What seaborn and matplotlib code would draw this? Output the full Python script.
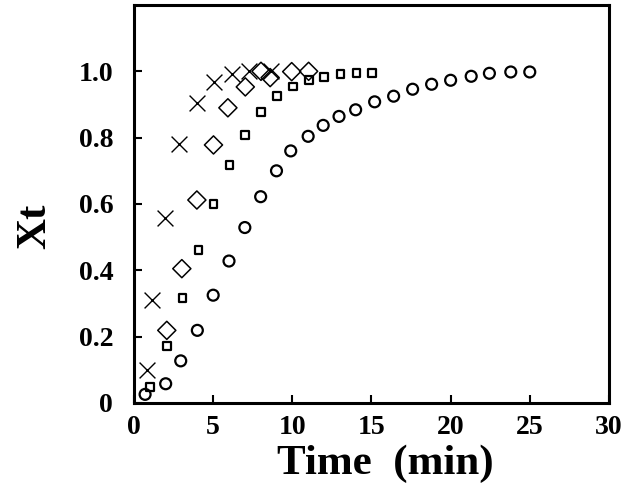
import seaborn as sns
import matplotlib.pyplot as plt

# circles
t_circle = [0.7, 2.0, 2.95, 4.0, 5.0, 6.0, 7.0, 8.0, 9.0, 9.9, 11.0, 11.95, 12.95, 14.0,
            15.2, 16.4, 17.6, 18.8, 20.0, 21.3, 22.45, 23.8, 25.0]
x_circle = [0.026, 0.058, 0.127, 0.219, 0.325, 0.428, 0.529, 0.622, 0.70, 0.76, 0.804,
            0.837, 0.864, 0.884, 0.908, 0.925, 0.946, 0.961, 0.973, 0.985, 0.994, 0.998, 0.998]

# squares
t_square = [1.0, 2.07, 3.06, 4.07, 5.02, 6.03, 7.03, 8.04, 9.03, 10.02, 11.08, 12.0, 13.04, 14.05, 15.02]
x_square = [0.048, 0.171, 0.316, 0.46, 0.599, 0.717, 0.808, 0.877, 0.926, 0.954, 0.973,
            0.984, 0.991, 0.994, 0.995]

# diamonds
t_diamond = [2.07, 3.02, 3.97, 5.02, 5.93, 7.03, 8.02, 8.6, 9.96, 11.03]
x_diamond = [0.219, 0.405, 0.612, 0.778, 0.89, 0.953, 1.0, 0.981, 0.999, 1.0]

# crosses
t_cross = [0.8, 1.12, 1.96, 2.85, 3.95, 5.03, 6.18, 7.25, 8.65]
x_cross = [0.098, 0.312, 0.559, 0.782, 0.905, 0.968, 0.993, 1.0, 1.0]

sns.set_style("ticks")
plt.rcParams['font.family'] = ['Liberation Serif', 'DejaVu Serif']
plt.rcParams['text.color'] = 'black'
plt.rcParams['xtick.color'] = 'black'
plt.rcParams['ytick.color'] = 'black'
plt.rcParams['axes.labelcolor'] = 'black'

fig = plt.figure(figsize=(6.31, 4.88), dpi=100)
ax = fig.add_axes([0.2124, 0.1742, 0.7526, 0.8156])

sns.scatterplot(x=t_circle, y=x_circle, marker='o', s=62, facecolor='none',
                edgecolor='black', linewidth=1.6, ax=ax, clip_on=False, zorder=3)
sns.scatterplot(x=t_square, y=x_square, marker='s', s=32, facecolor='none',
                edgecolor='black', linewidth=1.6, ax=ax, clip_on=False, zorder=3)
sns.scatterplot(x=t_diamond, y=x_diamond, marker='D', s=85, facecolor='none',
                edgecolor='black', linewidth=1.1, ax=ax, clip_on=False, zorder=3)
sns.scatterplot(x=t_cross, y=x_cross, marker='x', s=130, color='black',
                linewidth=1.0, ax=ax, clip_on=False, zorder=3)

ax.set_xlim(0, 30)
ax.set_ylim(0, 1.2)
ax.set_xticks([0, 5, 10, 15, 20, 25, 30])
ax.set_yticks([0, 0.2, 0.4, 0.6, 0.8, 1.0])
ax.set_yticklabels(['0', '0.2', '0.4', '0.6', '0.8', '1.0'])
ax.tick_params(direction='in', length=6, width=1.5, labelsize=20)
ax.tick_params(axis='x', pad=9)
ax.tick_params(axis='y', pad=15)
for lab in ax.get_xticklabels() + ax.get_yticklabels():
    lab.set_fontweight('bold')
for sp in ax.spines.values():
    sp.set_linewidth(2.2)
    sp.set_color('black')

ax.set_xlabel('Time  (min)', fontsize=31, fontweight='bold')
ax.xaxis.set_label_coords(0.53, -0.105)
ax.set_ylabel('Xt', fontsize=31, fontweight='bold')
ax.yaxis.set_label_coords(-0.168, 0.445)

fig.savefig('out.png', dpi=100)
